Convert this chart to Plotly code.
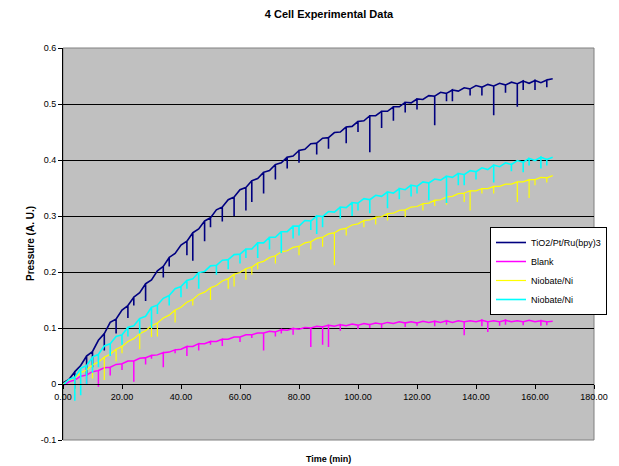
import plotly.graph_objects as go

# ---- data ----
time_min = [0, 2, 4, 6, 8, 10, 12, 14, 16, 18, 20, 22, 24, 26, 28, 30, 32, 34, 36, 38,
            40, 42, 44, 46, 48, 50, 52, 54, 56, 58, 60, 62, 64, 66, 68, 70, 72, 74, 76, 78,
            80, 82, 84, 86, 88, 90, 92, 94, 96, 98, 100, 102, 104, 106, 108, 110, 112, 114,
            116, 118, 120, 122, 124, 126, 128, 130, 132, 134, 136, 138, 140, 142, 144, 146,
            148, 150, 152, 154, 156, 158, 160, 162, 164, 166]

tio2 = [0.002, 0.008, 0.022, 0.033, 0.05, 0.058, 0.078, 0.09, 0.11, 0.116, 0.132, 0.14, 0.155,
        0.163, 0.179, 0.186, 0.202, 0.21, 0.226, 0.233, 0.248, 0.255, 0.27, 0.277, 0.291, 0.297,
        0.311, 0.316, 0.329, 0.334, 0.347, 0.351, 0.363, 0.367, 0.378, 0.381, 0.392, 0.395, 0.405,
        0.407, 0.417, 0.419, 0.429, 0.43, 0.439, 0.44, 0.449, 0.45, 0.459, 0.46, 0.469, 0.47, 0.479,
        0.479, 0.487, 0.487, 0.495, 0.495, 0.503, 0.502, 0.509, 0.508, 0.515, 0.514, 0.521, 0.519,
        0.525, 0.523, 0.529, 0.527, 0.533, 0.53, 0.535, 0.532, 0.537, 0.534, 0.539, 0.536, 0.541,
        0.537, 0.542, 0.538, 0.543, 0.545]
# downward spikes (time, lowest value)
tio2_dip_t = [4, 8, 10, 14, 18, 22, 28, 34, 42, 44, 48, 54, 58, 62, 64, 68, 72, 80, 86, 90, 96,
              104, 108, 112, 120, 126, 132, 138, 146, 150, 154, 160, 164,
              24, 36, 50, 76, 100, 116, 130, 142, 156]
tio2_dip_v = [-0.008, 0.015, 0.03, 0.06, 0.09, 0.118, 0.148, 0.19, 0.23, 0.22, 0.255, 0.29, 0.30,
              0.31, 0.325, 0.34, 0.365, 0.395, 0.41, 0.42, 0.43, 0.414, 0.457, 0.47, 0.49, 0.462,
              0.505, 0.515, 0.48, 0.52, 0.495, 0.525, 0.53,
              0.14, 0.21, 0.28, 0.385, 0.45, 0.485, 0.505, 0.515, 0.525]

blank = [-0.003, 0.004, 0.007, 0.014, 0.016, 0.022, 0.024, 0.029, 0.03, 0.035, 0.036, 0.041,
         0.041, 0.046, 0.047, 0.051, 0.052, 0.056, 0.057, 0.061, 0.062, 0.067, 0.067, 0.072,
         0.072, 0.076, 0.076, 0.08, 0.08, 0.084, 0.084, 0.088, 0.088, 0.091, 0.091, 0.094, 0.093,
         0.097, 0.096, 0.099, 0.098, 0.101, 0.1, 0.103, 0.102, 0.105, 0.103, 0.106, 0.104, 0.107,
         0.105, 0.108, 0.106, 0.109, 0.107, 0.11, 0.108, 0.111, 0.109, 0.111, 0.109, 0.112, 0.11,
         0.112, 0.11, 0.113, 0.11, 0.113, 0.111, 0.113, 0.111, 0.114, 0.111, 0.113, 0.111, 0.114,
         0.111, 0.113, 0.111, 0.114, 0.111, 0.113, 0.111, 0.112]
blank_dip_t = [4, 8, 12, 16, 20, 24, 28, 34, 38, 42, 46, 54, 60, 68, 72, 78, 84, 88, 90, 94, 100,
               108, 116, 126, 136, 142, 144, 148, 156, 162,
               30, 50, 64, 74, 104, 120, 130, 150, 164]
blank_dip_v = [-0.008, 0.0, -0.005, 0.015, 0.025, 0.004, 0.035, 0.03, 0.055, 0.05, 0.06, 0.068,
               0.075, 0.06, 0.085, 0.088, 0.066, 0.07, 0.066, 0.095, 0.098, 0.1, 0.102, 0.103,
               0.087, 0.103, 0.093, 0.104, 0.105, 0.104,
               0.045, 0.07, 0.082, 0.09, 0.1, 0.104, 0.106, 0.106, 0.105]

niobate_y = [0.0, 0.007, 0.011, 0.02, 0.025, 0.034, 0.039, 0.048, 0.053, 0.062, 0.067, 0.076,
             0.081, 0.09, 0.095, 0.104, 0.109, 0.118, 0.123, 0.132, 0.137, 0.146, 0.151, 0.16,
             0.164, 0.172, 0.176, 0.184, 0.188, 0.196, 0.199, 0.206, 0.209, 0.216, 0.219, 0.226,
             0.229, 0.236, 0.238, 0.244, 0.246, 0.252, 0.254, 0.26, 0.262, 0.268, 0.27, 0.276,
             0.278, 0.284, 0.286, 0.292, 0.293, 0.298, 0.299, 0.304, 0.305, 0.31, 0.311, 0.316,
             0.317, 0.322, 0.323, 0.328, 0.329, 0.334, 0.335, 0.34, 0.341, 0.345, 0.345, 0.349,
             0.349, 0.353, 0.353, 0.357, 0.357, 0.361, 0.361, 0.365, 0.365, 0.369, 0.368, 0.372]
niobate_y_dip_t = [4, 10, 14, 18, 26, 30, 32, 38, 50, 56, 58, 62, 64, 72, 80, 88, 92, 96, 102,
                   106, 116, 122, 130, 136, 138, 146, 154, 158, 164,
                   20, 44, 66, 84, 110, 126, 142, 160]
niobate_y_dip_v = [-0.015, 0.01, 0.007, 0.04, 0.062, 0.084, 0.085, 0.11, 0.15, 0.17, 0.174, 0.186,
                   0.195, 0.215, 0.23, 0.245, 0.212, 0.265, 0.28, 0.285, 0.298, 0.31, 0.32, 0.325,
                   0.31, 0.34, 0.325, 0.332, 0.36,
                   0.055, 0.14, 0.205, 0.24, 0.292, 0.318, 0.34, 0.355]

niobate_c = [-0.002, 0.008, 0.012, 0.028, 0.033, 0.048, 0.053, 0.068, 0.072, 0.085, 0.088, 0.101,
             0.104, 0.117, 0.121, 0.137, 0.141, 0.153, 0.158, 0.17, 0.174, 0.185, 0.188, 0.199,
             0.201, 0.211, 0.212, 0.221, 0.222, 0.231, 0.232, 0.241, 0.241, 0.252, 0.252, 0.262,
             0.262, 0.272, 0.272, 0.282, 0.282, 0.292, 0.291, 0.3, 0.299, 0.308, 0.307, 0.316,
             0.315, 0.324, 0.323, 0.331, 0.329, 0.337, 0.335, 0.343, 0.341, 0.349, 0.347, 0.355,
             0.353, 0.361, 0.359, 0.366, 0.364, 0.371, 0.369, 0.376, 0.374, 0.381, 0.379, 0.386,
             0.383, 0.391, 0.388, 0.395, 0.392, 0.399, 0.396, 0.403, 0.399, 0.405, 0.401, 0.405]
niobate_c_dip_t = [4, 6, 8, 10, 16, 20, 26, 30, 36, 40, 46, 52, 56, 60, 66, 70, 74, 78, 84, 86, 88,
                   94, 98, 104, 110, 114, 118, 124, 130, 134, 140, 146, 152, 156, 162,
                   12, 22, 32, 42, 62, 80, 100, 120, 136, 158, 164]
niobate_c_dip_v = [-0.03, -0.02, 0.0, 0.02, 0.05, 0.07, 0.09, 0.1, 0.14, 0.155, 0.17, 0.195,
                   0.205, 0.215, 0.225, 0.24, 0.234, 0.26, 0.275, 0.268, 0.28, 0.295, 0.3, 0.305,
                   0.314, 0.33, 0.335, 0.328, 0.323, 0.355, 0.365, 0.36, 0.38, 0.378, 0.385,
                   0.03, 0.085, 0.125, 0.17, 0.225, 0.265, 0.31, 0.34, 0.355, 0.39, 0.39]

series_names = ["TiO2/Pt/Ru(bpy)3", "Blank", "Niobate/Ni", "Niobate/Ni"]
series_colors = ["#000080", "#FF00FF", "#FFFF00", "#00FFFF"]
x_ticks = [0, 20, 40, 60, 80, 100, 120, 140, 160, 180]
y_ticks = [-0.1, 0, 0.1, 0.2, 0.3, 0.4, 0.5, 0.6]
y_tick_text = ["-0.1", "0", "0.1", "0.2", "0.3", "0.4", "0.5", "0.6"]


def with_spikes(base_t, base_v, dip_t, dip_v):
    """Walk the samples; at a spike time drop straight down to the spike value and back."""
    xs, ys = [], []
    for t, v in zip(base_t, base_v):
        xs.append(t)
        ys.append(v)
        for st, sv in zip(dip_t, dip_v):
            if st == t:
                xs += [t, t]
                ys += [sv, v]
    return xs, ys


all_series = [
    with_spikes(time_min, tio2, tio2_dip_t, tio2_dip_v),
    with_spikes(time_min, blank, blank_dip_t, blank_dip_v),
    with_spikes(time_min, niobate_y, niobate_y_dip_t, niobate_y_dip_v),
    with_spikes(time_min, niobate_c, niobate_c_dip_t, niobate_c_dip_v),
]
widths = [1.6, 1.5, 1.2, 1.6]

FONT = "Liberation Sans, Arial, sans-serif"
# page body has an 8px default margin, so the figure is 8px smaller than the window
W, H = 611, 458
L, T, R, B = 55, 40, 25, 26
PW, PH = W - L - R, H - T - B

fig = go.Figure()
for (tx, vy), name, col, w in zip(all_series, series_names, series_colors, widths):
    fig.add_trace(go.Scatter(x=tx, y=vy, mode="lines", name=name,
                             line=dict(color=col, width=w)))

fig.update_layout(
    width=W, height=H,
    margin=dict(l=L, r=R, t=T, b=B),
    paper_bgcolor="white",
    plot_bgcolor="#C0C0C0",
    font=dict(family=FONT, size=9, color="black"),
    title=dict(text="<b>4 Cell Experimental Data</b>", x=(L + 266) / W, xanchor="center",
               y=1 - 6 / H, yanchor="middle", font=dict(size=11, family=FONT)),
    showlegend=True,
    legend=dict(x=(482 - L) / PW, y=1 - (219 - T) / PH, xanchor="left", yanchor="top",
                bgcolor="white", bordercolor="black", borderwidth=1,
                font=dict(size=9, family=FONT), itemwidth=30, tracegroupgap=0),
    xaxis=dict(range=[0, 180], tickvals=x_ticks, tickformat=".2f",
               showgrid=False, zeroline=False, showline=True, linecolor="black",
               linewidth=1, ticks="outside", ticklen=4, tickcolor="black",
               anchor="free", position=1 / 7, tickfont=dict(size=9)),
    yaxis=dict(range=[-0.1, 0.6], tickvals=y_ticks, ticktext=y_tick_text,
               showgrid=True, gridcolor="black", gridwidth=1,
               zeroline=True, zerolinecolor="black", zerolinewidth=1,
               showline=True, linecolor="black", linewidth=1,
               ticks="outside", ticklen=4, tickcolor="black", tickfont=dict(size=9)),
    annotations=[
        dict(text="<b>Time (min)</b>", x=0.5, y=-12 / PH, xref="paper", yref="paper",
             xanchor="center", yanchor="top", showarrow=False, font=dict(size=9)),
        dict(text="<b>Pressure (A. U.)</b>", x=-33 / PW, y=0.5, xref="paper", yref="paper",
             xanchor="center", yanchor="middle", textangle=-90, showarrow=False,
             font=dict(size=10)),
    ],
    shapes=[
        dict(type="rect", xref="paper", yref="paper", x0=0, y0=0, x1=1, y1=1,
             line=dict(color="#808080", width=1), layer="below"),
    ],
)

fig.write_html("out.html")
